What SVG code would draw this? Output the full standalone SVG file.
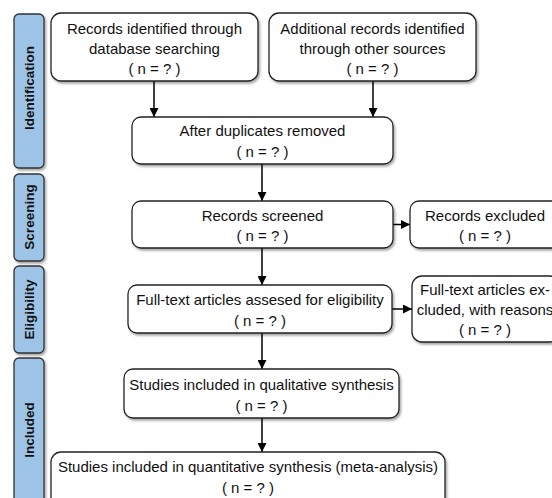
<svg xmlns="http://www.w3.org/2000/svg" width="552" height="498" viewBox="0 0 552 498">
<style>
.box{fill:#fff;stroke:#222;stroke-width:1.3;filter:url(#sh)}
.bar{fill:#9dc3e6;stroke:#333;stroke-width:1.3;filter:url(#sh)}
.t{font-family:"Liberation Sans",Arial,sans-serif;font-size:15px;fill:#111;text-anchor:middle}
.lb{font-family:"Liberation Sans",Arial,sans-serif;font-size:13.5px;font-weight:bold;fill:#111;text-anchor:middle}
.c{stroke:#000;stroke-width:1.5;fill:none;marker-end:url(#ah)}
</style>
<defs>
<filter id="sh" x="-10%" y="-10%" width="130%" height="140%">
<feDropShadow dx="1.5" dy="2" stdDeviation="1.2" flood-color="#000" flood-opacity="0.35"/>
</filter>
<marker id="ah" viewBox="0 0 10 10" refX="10" refY="5" markerWidth="6" markerHeight="6" orient="auto" markerUnits="strokeWidth">
<path d="M0,0 L10,5 L0,10 z" fill="#000"/>
</marker>
</defs>
<rect width="552" height="498" fill="#fff"/>

<g id="stage-identification">
<rect class="bar" x="14" y="14" width="30" height="154" rx="5"/>
<text class="lb" transform="translate(34,88) rotate(-90)">Identification</text>
</g>
<g id="stage-screening">
<rect class="bar" x="14" y="174" width="30" height="87" rx="5"/>
<text class="lb" transform="translate(34,217) rotate(-90)">Screening</text>
</g>
<g id="stage-eligibility">
<rect class="bar" x="14" y="266" width="30" height="87" rx="5"/>
<text class="lb" transform="translate(34,309.5) rotate(-90)">Eligibility</text>
</g>
<g id="stage-included">
<rect class="bar" x="14" y="358" width="30" height="150" rx="5"/>
<text class="lb" transform="translate(34,430) rotate(-90)">Included</text>
</g>

<g id="connectors">
<line class="c" x1="154" y1="81" x2="154" y2="117"/>
<line class="c" x1="373" y1="81" x2="373" y2="117"/>
<line class="c" x1="262" y1="164" x2="262" y2="201"/>
<line class="c" x1="393" y1="224.5" x2="410" y2="224.5"/>
<line class="c" x1="262" y1="248" x2="262" y2="285"/>
<line class="c" x1="392" y1="309" x2="412" y2="309"/>
<line class="c" x1="262" y1="333" x2="262" y2="369"/>
<line class="c" x1="262" y1="418" x2="262" y2="452"/>
</g>

<g id="n-database">
<rect class="box" x="51" y="13" width="207" height="68" rx="10"/>
<text class="t" x="154.5" y="33.5">Records identified through</text>
<text class="t" x="154.5" y="53.5">database searching</text>
<text class="t" x="154.5" y="74">( n = ? )</text>
</g>
<g id="n-other">
<rect class="box" x="269" y="13" width="207" height="68" rx="10"/>
<text class="t" x="372.5" y="33.5">Additional records identified</text>
<text class="t" x="372.5" y="53.5">through other sources</text>
<text class="t" x="372.5" y="74">( n = ? )</text>
</g>
<g id="n-duplicates">
<rect class="box" x="132" y="117" width="261" height="47" rx="9"/>
<text class="t" x="262.5" y="135.5">After duplicates removed</text>
<text class="t" x="262.5" y="156.5">( n = ? )</text>
</g>
<g id="n-screened">
<rect class="box" x="132" y="201" width="261" height="47" rx="9"/>
<text class="t" x="262.5" y="220.5">Records screened</text>
<text class="t" x="262.5" y="241">( n = ? )</text>
</g>
<g id="n-excluded">
<rect class="box" x="410" y="201" width="150" height="47" rx="9"/>
<text class="t" x="485" y="220.5">Records excluded</text>
<text class="t" x="485" y="241">( n = ? )</text>
</g>
<g id="n-fulltext">
<rect class="box" x="128" y="285" width="264" height="48" rx="9"/>
<text class="t" x="260" y="304.5">Full-text articles assesed for eligibility</text>
<text class="t" x="260" y="325.5">( n = ? )</text>
</g>
<g id="n-fulltext-excluded">
<rect class="box" x="412" y="276" width="148" height="66" rx="10"/>
<text class="t" x="485" y="295">Full-text articles ex-</text>
<text class="t" x="485" y="315">cluded, with reasons</text>
<text class="t" x="485" y="334.5">( n = ? )</text>
</g>
<g id="n-qualitative">
<rect class="box" x="124" y="369" width="275" height="49" rx="9"/>
<text class="t" x="261.5" y="390">Studies included in qualitative synthesis</text>
<text class="t" x="261.5" y="411">( n = ? )</text>
</g>
<g id="n-quantitative">
<rect class="box" x="51" y="452" width="394" height="56" rx="10"/>
<text class="t" x="248" y="472">Studies included in quantitative synthesis (meta-analysis)</text>
<text class="t" x="248" y="492.5">( n = ? )</text>
</g>
</svg>
